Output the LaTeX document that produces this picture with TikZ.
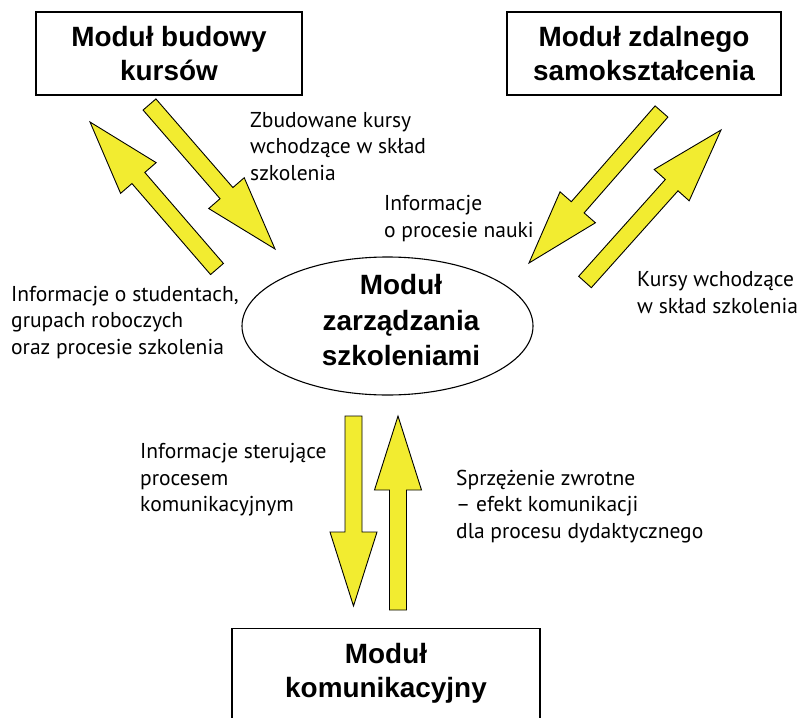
\documentclass[tikz,border=0pt]{standalone}
\usepackage{fontspec}
\setmainfont{PT Sans}
\newfontfamily\headfont{Liberation Sans}
\usetikzlibrary{shapes.geometric,calc}

\definecolor{arrowyellow}{RGB}{242,236,48}

\tikzset{
  headtext/.style={align=center, inner sep=0pt,
    font=\headfont\bfseries\fontsize{28}{34}\selectfont},
  modbox/.style={headtext, draw, line width=1.1bp},
  modoval/.style={draw, ellipse, line width=1.1bp, inner sep=0pt},
  % anchored at the baseline of the last line
  note/.style={align=left, anchor=base west, inner sep=0pt,
    font=\fontsize{21.6}{26.5}\selectfont},
  blockarrow/.style={draw, fill=arrowyellow, line width=0.9bp, line join=miter},
}

% wide yellow arrow from tail #1 to tip #2
\newcommand\yarrow[2]{%
  \coordinate (hb) at ($(#2)!74bp!(#1)$);
  \draw[blockarrow]
    ($(#1)!8.5bp!90:(#2)$) -- ($(hb)!8.5bp!90:(#2)$) -- ($(hb)!23.5bp!90:(#2)$)
    -- (#2)
    -- ($(hb)!23.5bp!-90:(#2)$) -- ($(hb)!8.5bp!-90:(#2)$) -- ($(#1)!8.5bp!-90:(#2)$)
    -- cycle;
}

\begin{document}
\begin{tikzpicture}[x=1bp,y=-1bp]
  \useasboundingbox (0,0) rectangle (798,718);
  \fill[white] (0,0) rectangle (798,718);
  \clip (0,0) rectangle (798,718);

  % modules
  \node[modbox, minimum width=266bp, minimum height=83bp] (budowa) at (169,53.5)
    {Moduł budowy\\kursów};
  \node[modbox, minimum width=274bp, minimum height=83bp] (zdalny) at (644,53.5)
    {Moduł zdalnego\\samokształcenia};
  \node[modoval, minimum width=291bp, minimum height=138bp,
    label={[headtext, font=\headfont\bfseries\fontsize{28}{35.5}\selectfont,
            xshift=13.5bp, yshift=5.7bp]center:Moduł\\zarządzania\\szkoleniami}]
    (zarz) at (387.5,326) {};
  \node[modbox, anchor=north, minimum width=308bp, minimum height=120bp,
    label={[headtext, yshift=15.25bp]center:Moduł\\komunikacyjny}]
    (komun) at (386,628) {};

  % arrow ends
  \coordinate (aT) at (149.5,104.5); \coordinate (aP) at (275,249);
  \coordinate (bT) at (217,269);     \coordinate (bP) at (90,122);
  \coordinate (cT) at (661.5,111.5); \coordinate (cP) at (529,263);
  \coordinate (dT) at (585,282);     \coordinate (dP) at (721,130);
  \coordinate (eT) at (353.5,416);   \coordinate (eP) at (353.5,606);
  \coordinate (fT) at (398,610);     \coordinate (fP) at (398,416);

  \yarrow{aT}{aP}
  \yarrow{bT}{bP}
  \yarrow{cT}{cP}
  \yarrow{dT}{dP}
  \yarrow{eT}{eP}
  \yarrow{fT}{fP}

  % flow descriptions
  \node[note] (n1) at (250,180) {Zbudowane kursy\\wchodzące w skład\\szkolenia};
  \node[note] (n2) at (384,237) {Informacje\\o procesie nauki};
  \node[note] (n3) at (637,313) {Kursy wchodzące\\w skład szkolenia};
  \node[note] (n4) at (11,354.3) {Informacje o studentach,\\grupach roboczych\\oraz procesie szkolenia};
  \node[note] (n5) at (140,511.7) {Informacje sterujące\\procesem\\komunikacyjnym};
  \node[note] (n6) at (456,538.3) {Sprzężenie zwrotne\\– efekt komunikacji\\dla procesu dydaktycznego};
\end{tikzpicture}
\end{document}
